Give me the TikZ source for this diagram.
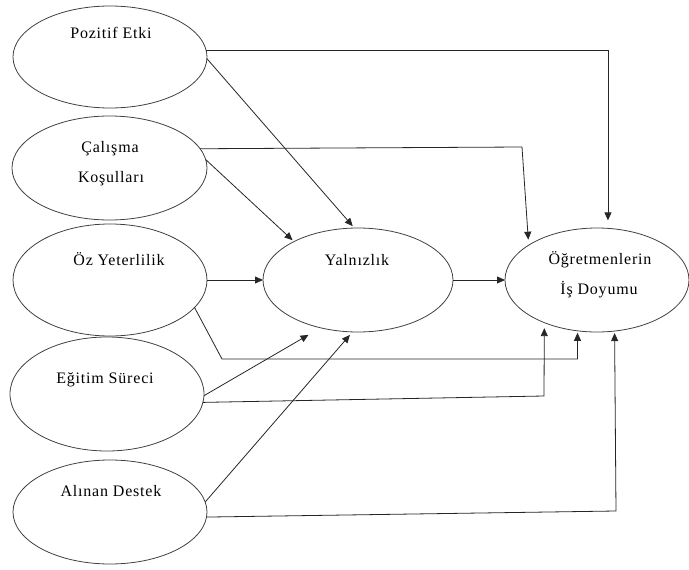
\documentclass[tikz,border=0pt]{standalone}
\usepackage{fontspec}
\setmainfont{Liberation Serif}[LetterSpace=5]
\usetikzlibrary{shapes.geometric,arrows.meta}
\begin{document}
\begin{tikzpicture}[x=1pt,y=-1pt,
  oval/.style={draw=black!75, line width=0.8pt, ellipse, inner sep=0pt, outer sep=0pt},
  lbl/.style={font=\fontsize{16}{19}\selectfont, inner sep=0pt, anchor=base},
  link/.style={draw=black!85, line width=0.8pt, -{Triangle[length=8pt,width=7pt]}}
]
\useasboundingbox (0,0) rectangle (689,570);
% ellipses
\node[oval, minimum width=194pt, minimum height=102pt] (pe)  at (110,57) {};
\node[oval, minimum width=195pt, minimum height=104pt] (cal) at (109.5,168) {};
\node[oval, minimum width=194pt, minimum height=112pt] (oz)  at (110,280) {};
\node[oval, minimum width=194pt, minimum height=114pt] (egt) at (107,394) {};
\node[oval, minimum width=194pt, minimum height=104pt] (ald) at (110,512) {};
\node[oval, minimum width=190pt, minimum height=104pt] (yal) at (358,280) {};
\node[oval, minimum width=184pt, minimum height=104pt] (ogr) at (597,280) {};
% labels
\node[lbl] (pe-t)   at (111,38)  {Pozitif Etki};
\node[lbl] (cal-t1) at (110,152) {Çalışma};
\node[lbl] (cal-t2) at (111,182) {Koşulları};
\node[lbl] (oz-t)   at (119,265) {Öz Yeterlilik};
\node[lbl] (egt-t)  at (105,383) {Eğitim Süreci};
\node[lbl] (ald-t)  at (111,496) {Alınan Destek};
\node[lbl] (yal-t)  at (357,265) {Yalnızlık};
\node[lbl] (ogr-t1) at (600,264) {Öğretmenlerin};
\node[lbl] (ogr-t2) at (599,294) {İş Doyumu};
% bend points
\coordinate (c1) at (522,147);
\coordinate (c2) at (222,359);
\coordinate (c3) at (544,396);
\coordinate (c4) at (616,511);
% connectors
\draw[link, shorten >=8pt] (pe.4) -| (ogr.78);
\draw[link, shorten >=2.5pt] (pe.-1) -- (yal.94);
\draw[link, shorten >=5.5pt] (cal.12) -- (c1) -- (ogr.153);
\draw[link, shorten >=2pt] (cal.5) -- (yal.149);
\draw[link] (oz.east) -- (yal.west);
\draw[link] (yal.east) -- (ogr.west);
\draw[link, shorten >=2pt] (oz.-18) -- (c2) -| (ogr.249);
\draw[link, shorten >=14pt] (egt.-1) -- (yal.232);
\draw[link, shorten >=5.5pt] (egt.-5) -- (c3) -- (ogr.219);
\draw[link, shorten >=4pt] (ald.6) -- (yal.264);
\draw[link, shorten >=2pt] (ald.-3) -- (c4) -- (ogr.289);
\end{tikzpicture}
\end{document}
